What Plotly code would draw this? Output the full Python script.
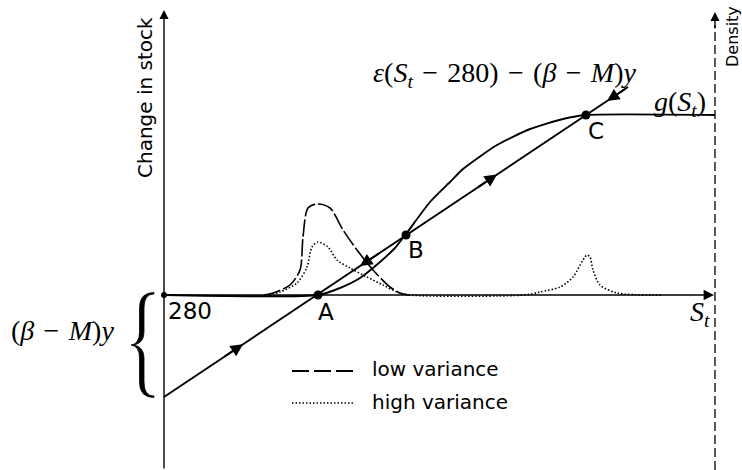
import numpy as np
import plotly.graph_objects as go

# ---------------- data (abstract units: x = S_t measured from 280, y = change in stock / density) -------------
line_x = [0, 464]                 # epsilon(S_t-280)-(beta-M)y  (straight line)
line_y = [-102, 208]

growth_x = [0, 154, 176, 196, 216, 231, 242, 266, 286, 299, 333, 366, 399, 422, 551]
growth_y = [0, 0, 7, 17, 33, 47, 61, 93, 113, 126, 150, 166, 176, 180, 180]

low_x = [100, 109, 126, 136, 139, 144, 153, 166, 179, 193, 209, 226, 236, 245]
low_y = [0, 2, 10, 25, 58, 87, 91, 87, 65, 45, 25, 8, 2, 0]

high_x = [105, 116, 133, 143, 148, 154, 164, 173, 186, 203, 219, 233, 245, 360,
          376, 396, 409, 419, 423, 426, 429, 436, 453, 499]
high_y = [0, 3, 12, 28, 48, 53, 48, 35, 27, 18, 10, 3, 0, 0,
          3, 8, 18, 35, 40, 38, 25, 10, 2, 0]

eq_labels = ["A", "B", "C"]
eq_x = [154, 242, 422]
eq_y = [0, 60, 180]

arrow_up_x = [79, 333]      # arrows pointing up-right along the line
arrow_down_x = [196, 443]   # arrows pointing down-left along the line

X0, X1 = -164, 578
Y0, Y1 = -175, 295
AX_R = 551  # density axis position


def P(px, py):
    return f"{px - 164},{295 - py}"


fig = go.Figure()

fig.add_trace(go.Scatter(x=line_x, y=line_y, mode="lines",
                         line=dict(color="black", width=1.9), hoverinfo="skip"))
fig.add_trace(go.Scatter(x=growth_x, y=growth_y, mode="lines",
                         line=dict(color="black", width=1.9, shape="spline", smoothing=0.6),
                         hoverinfo="skip"))
fig.add_trace(go.Scatter(x=low_x, y=low_y, mode="lines",
                         line=dict(color="black", width=1.6, shape="spline", smoothing=0.8,
                                   dash="17px,3px"), hoverinfo="skip"))
fig.add_trace(go.Scatter(x=high_x, y=high_y, mode="lines",
                         line=dict(color="black", width=1.6, shape="spline", smoothing=0.8,
                                   dash="1.5px,2px"), hoverinfo="skip"))
fig.add_trace(go.Scatter(x=eq_x, y=eq_y, mode="markers",
                         marker=dict(color="black", size=9), hoverinfo="skip"))
fig.add_trace(go.Scatter(x=[0], y=[0], mode="markers",
                         marker=dict(color="black", size=6), hoverinfo="skip"))

ann = []
# axes
ann.append(dict(x=0, y=285, ax=0, ay=Y0, xref="x", yref="y", axref="x", ayref="y",
                text="", showarrow=True, arrowhead=2, arrowsize=1.3, arrowwidth=1.4,
                arrowcolor="black"))
ann.append(dict(x=AX_R - 1, y=0, ax=0, ay=0, xref="x", yref="y", axref="x", ayref="y",
                text="", showarrow=True, arrowhead=2, arrowsize=1.3, arrowwidth=1.6,
                arrowcolor="black"))
ann.append(dict(x=AX_R, y=283, ax=AX_R, ay=265, xref="x", yref="y", axref="x", ayref="y",
                text="", showarrow=True, arrowhead=2, arrowsize=1.3, arrowwidth=1.4,
                arrowcolor="black"))

# direction arrows on the line
def line_at(x):
    return float(np.interp(x, line_x, line_y))

for xa in arrow_up_x:
    ann.append(dict(x=xa, y=line_at(xa), ax=xa - 20, ay=line_at(xa - 20), xref="x", yref="y",
                    axref="x", ayref="y", text="", showarrow=True, arrowhead=2, arrowsize=1.3,
                    arrowwidth=1.9, arrowcolor="black"))
for xa in arrow_down_x:
    ann.append(dict(x=xa, y=line_at(xa), ax=xa + 20, ay=line_at(xa + 20), xref="x", yref="y",
                    axref="x", ayref="y", text="", showarrow=True, arrowhead=2, arrowsize=1.3,
                    arrowwidth=1.9, arrowcolor="black"))

sans = "DejaVu Sans"
serif = "Liberation Serif"
sp = "\u2004"
mi = sp + "\u2212" + sp

# equilibrium labels
lab_off = [(8, -17), (10, -15), (10, -16)]
for lab, x, y, (dx, dy) in zip(eq_labels, eq_x, eq_y, lab_off):
    ann.append(dict(x=x + dx, y=y + dy, text=lab, showarrow=False, xref="x", yref="y",
                    font=dict(family=sans, size=23, color="black")))

ann.append(dict(x=26, y=-16, text="280", showarrow=False, xref="x", yref="y",
                font=dict(family=sans, size=23, color="black")))
ann.append(dict(x=-19, y=197, text="Change in stock", textangle=-90, showarrow=False,
                xref="x", yref="y", font=dict(family=sans, size=20, color="black")))
ann.append(dict(x=568, y=258, text="Density", textangle=-90, showarrow=False,
                xref="x", yref="y", font=dict(family=sans, size=16, color="black")))
ann.append(dict(x=536, y=-18, text="<i>S</i><sub><i>t</i></sub>", showarrow=False,
                xref="x", yref="y", font=dict(family=serif, size=28, color="black")))
ann.append(dict(x=544, y=192, text="<i>g</i>(<i>S</i><sub><i>t</i></sub>)", showarrow=False,
                xanchor="right", xref="x", yref="y", font=dict(family=serif, size=28, color="black")))
ann.append(dict(x=341, y=221,
                text="<i>ε</i>(<i>S</i><sub><i>t</i></sub>" + mi + "280)" + mi +
                     "(<i>β</i>" + mi + "<i>M</i>)<i>y</i>",
                showarrow=False, xref="x", yref="y",
                font=dict(family=serif, size=28, color="black")))
ann.append(dict(x=-102, y=-35, text="(<i>β</i>" + mi + "<i>M</i>)<i>y</i>", showarrow=False,
                xref="x", yref="y", font=dict(family=serif, size=28, color="black")))

# legend text
ann.append(dict(x=206, y=-74, text="low variance", xanchor="left", showarrow=False,
                xref="x", yref="y", font=dict(family=sans, size=20, color="black")))
ann.append(dict(x=206, y=-107, text="high variance", xanchor="left", showarrow=False,
                xref="x", yref="y", font=dict(family=sans, size=20, color="black")))

shapes = []
# dashed density axis
shapes.append(dict(type="line", x0=AX_R, x1=AX_R, y0=Y0, y1=270, xref="x", yref="y",
                   line=dict(color="black", width=1.3, dash="9px,4px")))
# legend samples
shapes.append(dict(type="line", x0=128, x1=191, y0=-76, y1=-76, xref="x", yref="y",
                   line=dict(color="black", width=2, dash="17px,5px")))
shapes.append(dict(type="line", x0=128, x1=191, y0=-108, y1=-108, xref="x", yref="y",
                   line=dict(color="black", width=1.5, dash="1.5px,2px")))
# curly brace
brace = ("M " + P(154, 292.5) + " Q " + P(139.5, 292.5) + " " + P(139.5, 308) +
         " L " + P(139.5, 332) + " Q " + P(139.5, 344) + " " + P(131, 345) +
         " Q " + P(139.5, 346) + " " + P(139.5, 358) +
         " L " + P(139.5, 382) + " Q " + P(139.5, 397.5) + " " + P(154, 397.5) +
         " L " + P(154, 396) + " Q " + P(144, 396) + " " + P(144, 382) +
         " L " + P(144, 358) + " Q " + P(144, 347) + " " + P(134, 345) +
         " Q " + P(144, 343) + " " + P(144, 332) +
         " L " + P(144, 308) + " Q " + P(144, 294) + " " + P(154, 294) + " Z")
shapes.append(dict(type="path", path=brace, xref="x", yref="y", fillcolor="black",
                   line=dict(color="black", width=0.8)))

fig.update_layout(
    width=742, height=470, margin=dict(l=0, r=0, t=0, b=0),
    paper_bgcolor="white", plot_bgcolor="white", showlegend=False,
    xaxis=dict(range=[X0, X1], visible=False, fixedrange=True),
    yaxis=dict(range=[Y0, Y1], visible=False, fixedrange=True),
    annotations=ann, shapes=shapes,
)

fig.write_html("out.html")
